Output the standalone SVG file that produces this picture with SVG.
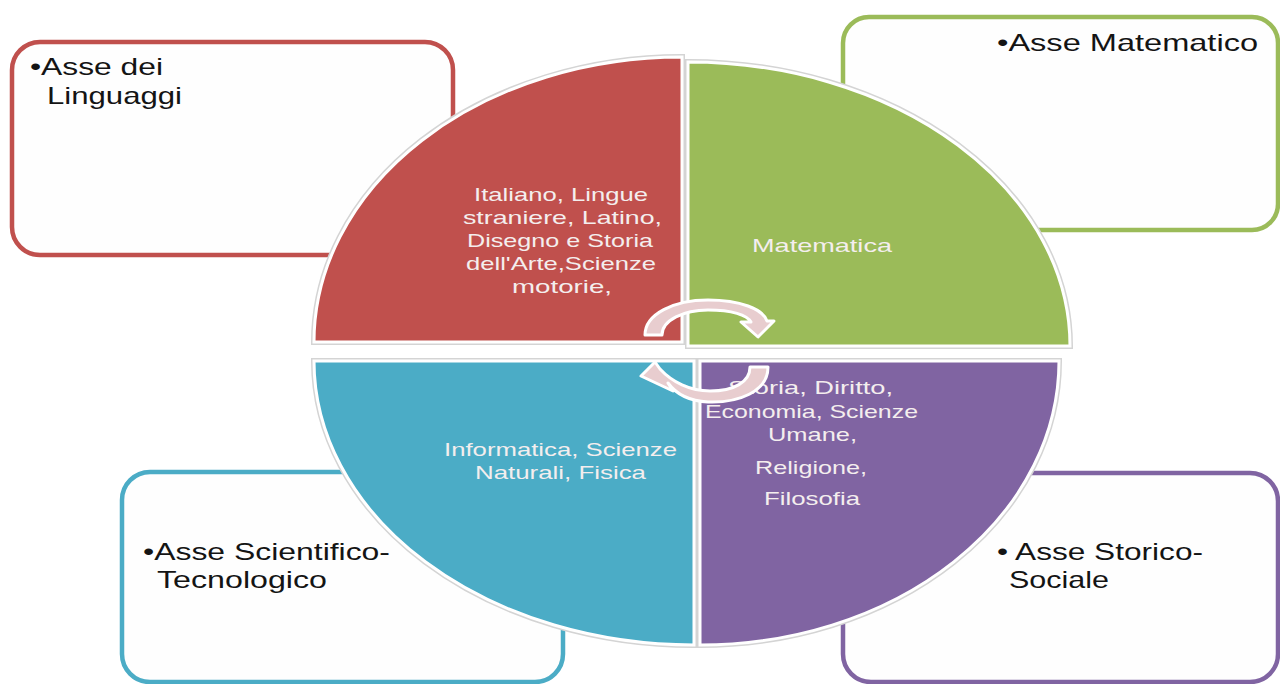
<svg xmlns="http://www.w3.org/2000/svg" width="1280" height="684" viewBox="0 0 1280 684">
<defs>
<style>
.box{fill:#FEFEFE;stroke-width:4.5}
.bt{font-family:"Liberation Sans",Arial,sans-serif;font-size:24px;fill:#141414}
.qt{font-family:"Liberation Sans",Arial,sans-serif;font-size:19px;fill:#F4EEEE}
.sh{fill:none;stroke:#D4D4D4;stroke-width:6}
.q{stroke:#FFFFFF;stroke-width:3}
.arr{fill:#E8CDCF;stroke:#FFFFFF;stroke-width:3;stroke-linejoin:round}
</style>
<path id="pRed" d="M682,342 L314,342 A368,285 0 0 1 682,57 Z"/>
<path id="pGreen" d="M688,346 L688,62 A382,284 0 0 1 1070,346 Z"/>
<path id="pBlue" d="M694,361 L694,645 A380,284 0 0 1 314,361 Z"/>
<path id="pPurple" d="M700,361 L1059,361 A359,284 0 0 1 700,645 Z"/>
</defs>
<rect width="1280" height="684" fill="#FFFFFF"/>

<g id="box-linguaggi">
<rect class="box" x="12" y="42" width="441" height="213" rx="28" stroke="#C0504D"/>
<text class="bt" x="30" y="75" textLength="133" lengthAdjust="spacingAndGlyphs">•Asse dei</text>
<text class="bt" x="47" y="104" textLength="135" lengthAdjust="spacingAndGlyphs">Linguaggi</text>
</g>
<g id="box-matematico">
<rect class="box" x="843" y="17" width="435" height="213" rx="26" stroke="#9BBB59"/>
<text class="bt" x="997" y="51" textLength="261" lengthAdjust="spacingAndGlyphs">•Asse Matematico</text>
</g>
<g id="box-scientifico">
<rect class="box" x="122" y="472" width="441" height="210" rx="28" stroke="#4BACC6"/>
<text class="bt" x="143" y="560" textLength="247" lengthAdjust="spacingAndGlyphs">•Asse Scientifico-</text>
<text class="bt" x="157" y="588" textLength="170" lengthAdjust="spacingAndGlyphs">Tecnologico</text>
</g>
<g id="box-storico">
<rect class="box" x="843" y="473" width="435" height="209" rx="28" stroke="#8064A2"/>
<text class="bt" x="997" y="560" textLength="206" lengthAdjust="spacingAndGlyphs">• Asse Storico-</text>
<text class="bt" x="1009" y="588" textLength="100" lengthAdjust="spacingAndGlyphs">Sociale</text>
</g>

<g id="q-linguaggi">
<use href="#pRed" class="sh"/>
<use href="#pRed" class="q" fill="#C0504D"/>
<text class="qt" x="474" y="201" textLength="174" lengthAdjust="spacingAndGlyphs">Italiano, Lingue</text>
<text class="qt" x="463" y="224" textLength="199" lengthAdjust="spacingAndGlyphs">straniere, Latino,</text>
<text class="qt" x="467" y="247" textLength="186" lengthAdjust="spacingAndGlyphs">Disegno e Storia</text>
<text class="qt" x="466" y="270" textLength="190" lengthAdjust="spacingAndGlyphs">dell'Arte,Scienze</text>
<text class="qt" x="512" y="293" textLength="100" lengthAdjust="spacingAndGlyphs">motorie,</text>
</g>
<g id="q-matematico">
<use href="#pGreen" class="sh"/>
<use href="#pGreen" class="q" fill="#9BBB59"/>
<text class="qt" x="752" y="252" textLength="140" lengthAdjust="spacingAndGlyphs">Matematica</text>
</g>
<g id="q-scientifico">
<use href="#pBlue" class="sh"/>
<use href="#pBlue" class="q" fill="#4BACC6"/>
<text class="qt" x="444" y="456" textLength="233" lengthAdjust="spacingAndGlyphs">Informatica, Scienze</text>
<text class="qt" x="475" y="479" textLength="171" lengthAdjust="spacingAndGlyphs">Naturali, Fisica</text>
</g>
<g id="q-storico">
<use href="#pPurple" class="sh"/>
<use href="#pPurple" class="q" fill="#8064A2"/>
<text class="qt" x="728" y="394" textLength="165" lengthAdjust="spacingAndGlyphs">Storia, Diritto,</text>
<text class="qt" x="705" y="418" textLength="213" lengthAdjust="spacingAndGlyphs">Economia, Scienze</text>
<text class="qt" x="768" y="441" textLength="89" lengthAdjust="spacingAndGlyphs">Umane,</text>
<text class="qt" x="755" y="474" textLength="112" lengthAdjust="spacingAndGlyphs">Religione,</text>
<text class="qt" x="764" y="505" textLength="96" lengthAdjust="spacingAndGlyphs">Filosofia</text>
</g>

<g id="connectors">
<path class="arr" d="M645,335 C645,314 674,300 708,300 C740,300 763,309 767,321 L774,321 L758,337 L741,322 L751,322 C747,315 732,310 708,310 C684,310 662,320 662,335 Z"/>
<path class="arr" d="M768,367 C768,392 738,403 708,402 C690,401 676,394 668,383 L673,391 L641,376 L655,362 L660,369 C672,382 690,391 710,391 C734,391 750,382 750,367 Z"/>
</g>
</svg>
